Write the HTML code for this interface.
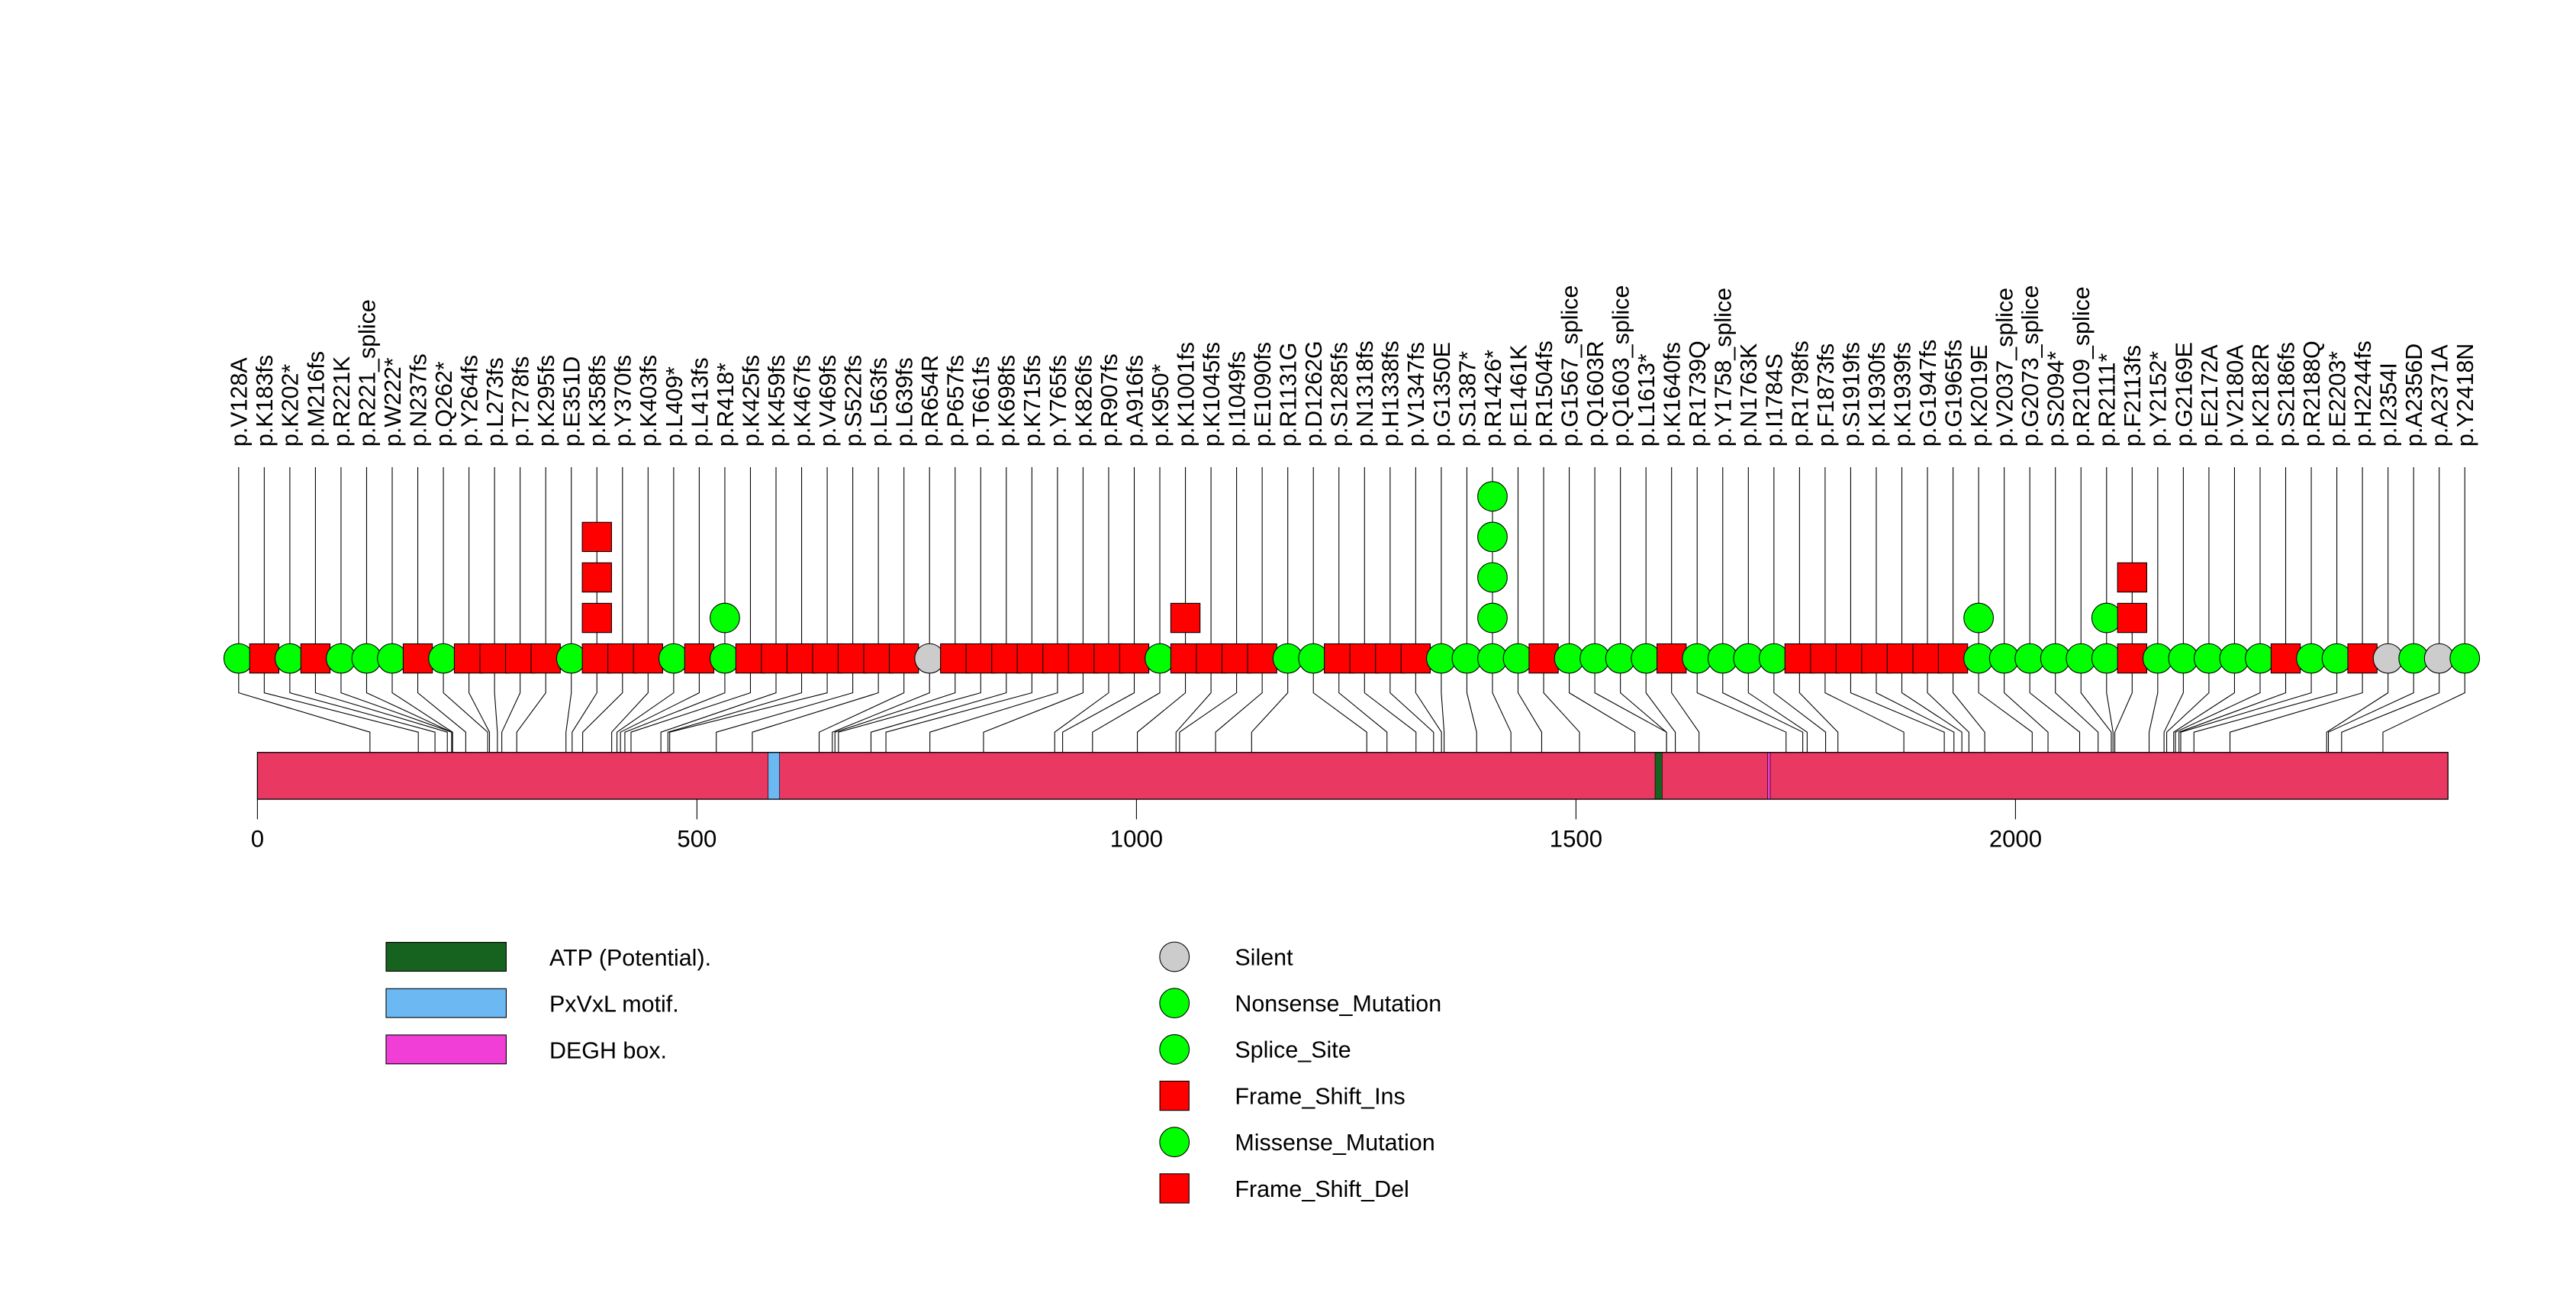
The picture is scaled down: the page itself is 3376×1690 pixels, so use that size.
<!DOCTYPE html>
<html><head><meta charset="utf-8"><style>
html,body{margin:0;padding:0;background:#fff;}
svg{display:block;}
text{font-family:"Liberation Sans",Arial,sans-serif;fill:#000;}
</style></head><body>
<svg id="chart" width="3376" height="1690" viewBox="0 0 1552 777" preserveAspectRatio="none" xmlns="http://www.w3.org/2000/svg">
<g id="connectors"></g>
<g id="protein"></g>
<g id="markers"></g>
<g id="labels"></g>
<g id="axis"></g>
<g id="legend"></g>
</svg>
<script>
const labels = ["p.V128A","p.K183fs","p.K202*","p.M216fs","p.R221K","p.R221_splice","p.W222*","p.N237fs","p.Q262*","p.Y264fs","p.L273fs","p.T278fs","p.K295fs","p.E351D","p.K358fs","p.Y370fs","p.K403fs","p.L409*","p.L413fs","p.R418*","p.K425fs","p.K459fs","p.K467fs","p.V469fs","p.S522fs","p.L563fs","p.L639fs","p.R654R","p.P657fs","p.T661fs","p.K698fs","p.K715fs","p.Y765fs","p.K826fs","p.R907fs","p.A916fs","p.K950*","p.K1001fs","p.K1045fs","p.I1049fs","p.E1090fs","p.R1131G","p.D1262G","p.S1285fs","p.N1318fs","p.H1338fs","p.V1347fs","p.G1350E","p.S1387*","p.R1426*","p.E1461K","p.R1504fs","p.G1567_splice","p.Q1603R","p.Q1603_splice","p.L1613*","p.K1640fs","p.R1739Q","p.Y1758_splice","p.N1763K","p.I1784S","p.R1798fs","p.F1873fs","p.S1919fs","p.K1930fs","p.K1939fs","p.G1947fs","p.G1965fs","p.K2019E","p.V2037_splice","p.G2073_splice","p.S2094*","p.R2109_splice","p.R2111*","p.F2113fs","p.Y2152*","p.G2169E","p.E2172A","p.V2180A","p.K2182R","p.S2186fs","p.R2188Q","p.E2203*","p.H2244fs","p.I2354I","p.A2356D","p.A2371A","p.Y2418N"];
const positions = [128,183,202,216,221,221,222,237,262,264,273,278,295,351,358,370,403,409,413,418,425,459,467,469,522,563,639,654,657,661,698,715,765,826,907,916,950,1001,1045,1049,1090,1131,1262,1285,1318,1338,1347,1350,1387,1426,1461,1504,1567,1603,1603,1613,1640,1739,1758,1763,1784,1798,1873,1919,1930,1939,1947,1965,2019,2037,2073,2094,2109,2111,2113,2152,2169,2172,2180,2182,2186,2188,2203,2244,2354,2356,2371,2418];
const counts = [1,1,1,1,1,1,1,1,1,1,1,1,1,1,4,1,1,1,1,2,1,1,1,1,1,1,1,1,1,1,1,1,1,1,1,1,1,2,1,1,1,1,1,1,1,1,1,1,1,5,1,1,1,1,1,1,1,1,1,1,1,1,1,1,1,1,1,1,2,1,1,1,1,2,3,1,1,1,1,1,1,1,1,1,1,1,1,1];
const proteinLength = 2492;
const domainNames = ["ATP (Potential).","PxVxL motif.","DEGH box."];
const domainStarts = [1590,581,1718];
const domainEnds = [1598,594,1721];
const domainColors = ["#16621f","#6bb8f3","#f03ed6"];
const tickValues = [0,500,1000,1500,2000];
const legendTypes = ["Silent","Nonsense_Mutation","Splice_Site","Frame_Shift_Ins","Missense_Mutation","Frame_Shift_Del"];

const NS="http://www.w3.org/2000/svg";
function mk(tag, attrs, parent){const e=document.createElementNS(NS,tag);for(const k in attrs)e.setAttribute(k,attrs[k]);parent.appendChild(e);return e;}
const x0=155.1, scale=0.5296;
function xPos(p){return x0+p*scale;}
const colStart=143.8, colStep=(1485-143.8)/87;
function colX(i){return colStart+i*colStep;}
const markerY=396.6, stackStep=24.4, R=8.9, S=8.8;
const barTop=453.2, barBot=481.4;

function mtype(l){
  if(/fs$/.test(l)) return "fs";
  if(/\*$/.test(l)) return "non";
  if(/splice$/.test(l)) return "spl";
  const m=l.match(/^p\.([A-Z])\d+([A-Z])$/);
  if(m && m[1]===m[2]) return "sil";
  return "mis";
}

const gC=document.getElementById('connectors');
const gP=document.getElementById('protein');
const gM=document.getElementById('markers');
const gL=document.getElementById('labels');
const gA=document.getElementById('axis');
const gG=document.getElementById('legend');

const bar=mk('rect',{x:xPos(0),y:barTop,width:proteinLength*scale,height:barBot-barTop,fill:'#e93862',stroke:'none'},gP);


domainNames.forEach((n,i)=>{
  const d=mk('rect',{x:xPos(domainStarts[i]),y:barTop,width:(domainEnds[i]-domainStarts[i])*scale,height:barBot-barTop,fill:domainColors[i],stroke:'#000','stroke-width':0.3},gP);
  
  
});

labels.forEach((lab,i)=>{
  const cx=colX(i), px=xPos(positions[i]);
  const conn=mk('polyline',{points:`${cx},281.4 ${cx},${markerY} ${cx},417.3 ${px},441 ${px},${barBot}`,fill:'none',stroke:'#000','stroke-width':0.5},gC);
  
  
  const t=mtype(lab);
  for(let k=0;k<counts[i];k++){
    const y=markerY-k*stackStep;
    let m;
    if(t==="fs"){
      m=mk('rect',{x:cx-S,y:y-S,width:2*S,height:2*S,fill:'#ff0000',stroke:'#000','stroke-width':0.5},gM);
    } else {
      m=mk('circle',{cx:cx,cy:y,r:R,fill:t==="sil"?'#cccccc':'#00ff00',stroke:'#000','stroke-width':0.5},gM);
    }
    
    
  }
  const tx=mk('text',{x:0,y:0,'font-size':14,transform:`translate(${cx+5},269) rotate(-90)`},gL);
  tx.textContent=lab;
  
  
});

const outline=mk('rect',{x:xPos(0),y:barTop,width:proteinLength*scale,height:barBot-barTop,fill:'none',stroke:'#000','stroke-width':0.6},gP);



tickValues.forEach(v=>{
  const tl=mk('line',{x1:xPos(v),x2:xPos(v),y1:barBot,y2:493.5,stroke:'#000','stroke-width':0.5},gA);
  
  
  const tt=mk('text',{x:xPos(v),y:510,'font-size':14.3,'text-anchor':'middle'},gA);
  tt.textContent=String(v);
  
  
});

domainNames.forEach((n,i)=>{
  const y=567.6+i*27.9;
  const r=mk('rect',{x:232.6,y:y,width:72.4,height:17.4,fill:domainColors[i],stroke:'#000','stroke-width':0.5},gG);
  
  
  const t=mk('text',{x:331,y:y+14,'font-size':14},gG);
  t.textContent=n;
  
  
});
legendTypes.forEach((n,i)=>{
  const y=576.3+i*27.9;
  let m;
  if(n.startsWith("Frame")){
    m=mk('rect',{x:707.6-S,y:y-S,width:2*S,height:2*S,fill:'#ff0000',stroke:'#000','stroke-width':0.5},gG);
  } else {
    m=mk('circle',{cx:707.6,cy:y,r:R,fill:n==="Silent"?'#cccccc':'#00ff00',stroke:'#000','stroke-width':0.5},gG);
  }
  
  
  const t=mk('text',{x:744,y:y+5,'font-size':14},gG);
  t.textContent=n;
  
  
});
</script>
</body></html>
